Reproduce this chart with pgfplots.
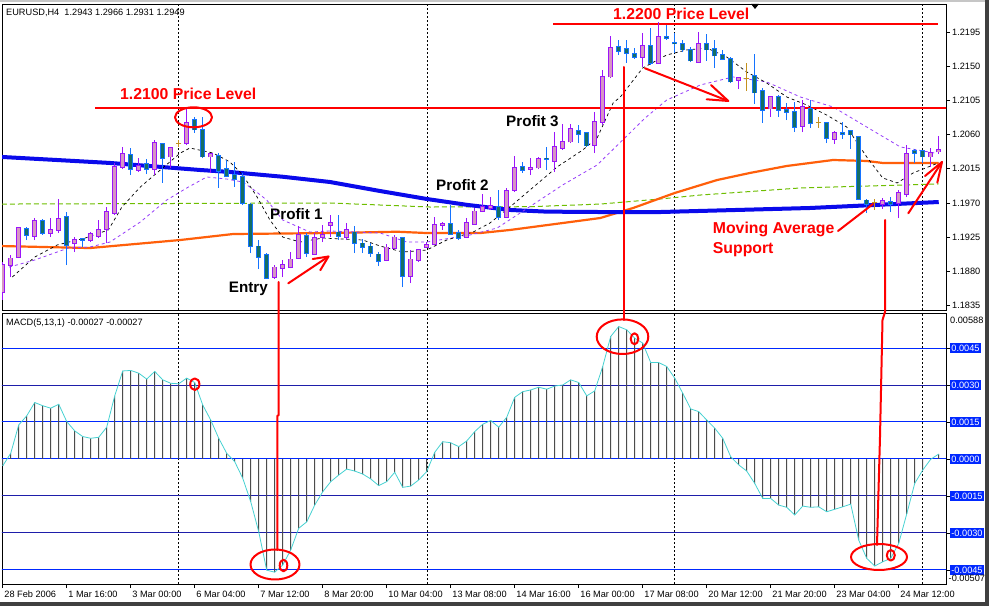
\documentclass[border=0pt]{standalone}
\usepackage{pgfplots}
\pgfplotsset{compat=1.18}
\usepackage{pgfplotstable}
\usepackage{fontspec}
\setmainfont{Liberation Sans}
\definecolor{bullfill}{RGB}{215,150,195}
\definecolor{bullline}{RGB}{155,20,250}
\definecolor{bearfill}{RGB}{20,110,100}
\definecolor{bearline}{RGB}{20,115,255}
\definecolor{dojic}{RGB}{195,145,30}
\definecolor{maBlue}{RGB}{10,10,235}
\definecolor{maOrange}{RGB}{255,95,10}
\definecolor{maGreen}{RGB}{110,190,0}
\definecolor{maPurple}{RGB}{150,60,250}
\definecolor{macdCyan}{RGB}{70,210,210}
\definecolor{lvlBlue}{RGB}{0,40,255}
\definecolor{lvlDark}{RGB}{30,30,170}
\definecolor{lblBlue}{RGB}{0,40,255}
\definecolor{annRed}{RGB}{255,0,0}
\newcommand{\tickfont}{\fontsize{9.2}{11}\selectfont}
\newcommand{\redfont}{\fontsize{15.8}{18}\selectfont\bfseries}
\newcommand{\blkfont}{\fontsize{15.2}{18}\selectfont\bfseries}

\pgfplotstableread{
i o h l c
0 1.18525 1.18920 1.18420 1.18881
1 1.18881 1.19013 1.18723 1.18973
2 1.18986 1.19382 1.18973 1.19369
4 1.19264 1.19501 1.19211 1.19462
6 1.19303 1.19501 1.19250 1.19343
7 1.19343 1.19752 1.19303 1.19488
9 1.19171 1.19250 1.19052 1.19211
11 1.19211 1.19316 1.19184 1.19290
12 1.19264 1.19475 1.19237 1.19343
13 1.19356 1.19646 1.19171 1.19580
14 1.19567 1.20227 1.19541 1.20174
15 1.20174 1.20438 1.20147 1.20345
17 1.20134 1.20292 1.20108 1.20187
19 1.20147 1.20530 1.20068 1.20490
21 1.20306 1.20438 1.20161 1.20424
23 1.20490 1.20952 1.20464 1.20754
26 1.20306 1.20358 1.20095 1.20345
34 1.18723 1.18881 1.18697 1.18854
35 1.18841 1.18947 1.18723 1.18881
36 1.18854 1.19052 1.18841 1.18960
37 1.18973 1.19396 1.18960 1.19277
39 1.19026 1.19303 1.19013 1.19237
40 1.19250 1.19409 1.19184 1.19277
41 1.19409 1.19541 1.19250 1.19435
43 1.19250 1.19435 1.19211 1.19343
48 1.18947 1.19158 1.18934 1.19118
49 1.19105 1.19277 1.19092 1.19250
51 1.18736 1.19079 1.18644 1.18960
52 1.18947 1.19092 1.18920 1.19079
53 1.19118 1.19184 1.19105 1.19145
54 1.19158 1.19514 1.19145 1.19409
55 1.19409 1.19448 1.19343 1.19422
58 1.19250 1.19501 1.19237 1.19435
59 1.19422 1.19633 1.19409 1.19593
60 1.19593 1.19818 1.19580 1.19646
61 1.19633 1.19778 1.19607 1.19659
63 1.19514 1.19897 1.19501 1.19857
64 1.19870 1.20319 1.19844 1.20161
66 1.20147 1.20292 1.20068 1.20161
67 1.20161 1.20306 1.20147 1.20279
69 1.20253 1.20635 1.20108 1.20438
70 1.20424 1.20741 1.20398 1.20504
71 1.20504 1.20741 1.20490 1.20675
74 1.20464 1.20899 1.20358 1.20767
75 1.20767 1.21453 1.20728 1.21361
76 1.21361 1.21901 1.21347 1.21743
80 1.21624 1.21941 1.21493 1.21769
82 1.21545 1.22086 1.21532 1.21888
87 1.21558 1.21954 1.21545 1.21796
92 1.21321 1.21361 1.21202 1.21347
96 1.20939 1.21110 1.20833 1.21097
100 1.20714 1.21057 1.20635 1.20965
104 1.20543 1.20648 1.20477 1.20622
110 1.19685 1.19765 1.19620 1.19725
112 1.19699 1.19870 1.19501 1.19831
113 1.19818 1.20464 1.19778 1.20345
116 1.20306 1.20424 1.20174 1.20358
117 1.20372 1.20583 1.20345 1.20398
}\bull

\pgfplotstableread{
i o h l c
3 1.19356 1.19382 1.19211 1.19277
5 1.19462 1.19488 1.19277 1.19303
8 1.19514 1.19580 1.18881 1.19145
10 1.19224 1.19237 1.19118 1.19211
16 1.20332 1.20424 1.20068 1.20147
18 1.20213 1.20279 1.20081 1.20147
20 1.20477 1.20490 1.19963 1.20292
24 1.20793 1.20833 1.20622 1.20662
25 1.20662 1.20833 1.20292 1.20306
27 1.20319 1.20358 1.19897 1.20121
28 1.20147 1.20266 1.20042 1.20055
29 1.20068 1.20240 1.19910 1.20015
30 1.20042 1.20095 1.19672 1.19699
31 1.19685 1.19699 1.19039 1.19131
32 1.19131 1.19211 1.18828 1.18986
33 1.19013 1.19039 1.18697 1.18710
38 1.19264 1.19303 1.18986 1.19039
42 1.19316 1.19541 1.19211 1.19264
44 1.19316 1.19396 1.19039 1.19171
45 1.19171 1.19224 1.19039 1.19118
46 1.19131 1.19171 1.18986 1.19039
47 1.19026 1.19052 1.18868 1.18934
50 1.19237 1.19250 1.18591 1.18736
56 1.19422 1.19672 1.19277 1.19290
57 1.19303 1.19343 1.19211 1.19237
62 1.19646 1.19870 1.19475 1.19514
65 1.20174 1.20240 1.20095 1.20134
68 1.20286 1.20438 1.20134 1.20273
72 1.20648 1.20728 1.20490 1.20609
73 1.20622 1.20635 1.20438 1.20451
77 1.21756 1.21849 1.21651 1.21703
78 1.21730 1.21849 1.21545 1.21677
79 1.21664 1.21743 1.21598 1.21624
81 1.21769 1.22007 1.21519 1.21545
83 1.21888 1.22046 1.21849 1.21875
84 1.21809 1.21941 1.21677 1.21796
85 1.21796 1.21849 1.21690 1.21717
86 1.21717 1.21756 1.21558 1.21572
88 1.21796 1.21928 1.21572 1.21717
89 1.21730 1.21849 1.21479 1.21638
90 1.21651 1.21717 1.21585 1.21598
91 1.21598 1.21624 1.21281 1.21295
94 1.21374 1.21664 1.21005 1.21150
95 1.21176 1.21216 1.20754 1.20925
97 1.21097 1.21123 1.20833 1.20925
98 1.20925 1.21018 1.20793 1.20899
99 1.20899 1.21031 1.20635 1.20701
101 1.20939 1.21057 1.20688 1.20754
103 1.20754 1.20767 1.20490 1.20556
105 1.20622 1.20767 1.20543 1.20609
106 1.20648 1.20662 1.20411 1.20596
107 1.20569 1.20583 1.19738 1.19752
108 1.19738 1.19752 1.19567 1.19685
111 1.19712 1.19778 1.19580 1.19685
114 1.20385 1.20411 1.20227 1.20358
115 1.20385 1.20398 1.20227 1.20306
}\bear

\pgfplotstableread{
i o h l c
22 1.20490 1.20530 1.20438 1.20490
93 1.21347 1.21545 1.21176 1.21347
102 1.20754 1.20833 1.20688 1.20754
109 1.19712 1.19752 1.19607 1.19712
}\doji

\pgfplotstableread{
i m
0 -0.00028
1 0.00023
2 0.00138
3 0.00175
4 0.00229
5 0.00216
6 0.00206
7 0.00222
8 0.00152
9 0.00114
10 0.00091
11 0.00084
12 0.00088
13 0.00129
14 0.00256
15 0.00357
16 0.00359
17 0.00348
18 0.00324
19 0.00355
20 0.00321
21 0.00307
22 0.00305
23 0.00328
24 0.00310
25 0.00219
26 0.00158
27 0.00084
28 0.00023
29 -0.00011
30 -0.00078
31 -0.00173
32 -0.00295
33 -0.00451
34 -0.00459
35 -0.00430
36 -0.00369
37 -0.00281
38 -0.00255
39 -0.00187
40 -0.00133
41 -0.00092
42 -0.00065
43 -0.00041
44 -0.00049
45 -0.00061
46 -0.00081
47 -0.00108
48 -0.00092
49 -0.00054
50 -0.00115
51 -0.00110
52 -0.00085
53 -0.00051
54 0.00027
55 0.00070
56 0.00066
57 0.00050
58 0.00073
59 0.00111
60 0.00141
61 0.00156
62 0.00129
63 0.00169
64 0.00250
65 0.00273
66 0.00280
67 0.00291
68 0.00283
69 0.00296
70 0.00300
71 0.00321
72 0.00310
73 0.00256
74 0.00276
75 0.00375
76 0.00497
77 0.00537
78 0.00524
79 0.00490
80 0.00470
81 0.00391
82 0.00391
83 0.00375
84 0.00328
85 0.00267
86 0.00203
87 0.00192
88 0.00158
89 0.00125
90 0.00084
91 0.00009
92 -0.00024
93 -0.00049
94 -0.00099
95 -0.00160
96 -0.00160
97 -0.00187
98 -0.00196
99 -0.00227
100 -0.00191
101 -0.00196
102 -0.00194
103 -0.00214
104 -0.00204
105 -0.00194
106 -0.00183
107 -0.00329
108 -0.00403
109 -0.00434
110 -0.00417
111 -0.00403
112 -0.00342
113 -0.00223
114 -0.00099
115 -0.00045
116 -0.00001
117 0.00020
}\macd

\begin{document}
\begin{tikzpicture}
\path[use as bounding box] (0pt,0pt) rectangle (989pt,606pt);
\fill[white] (0pt,0pt) rectangle (989pt,606pt);

% ---------------- price panel ----------------
\begin{scope}[shift={(2pt,296pt)}]
\begin{axis}[
  at={(0pt,0pt)}, anchor=south west, scale only axis,
  width=944pt, height=306pt,
  xmin=-0.09, xmax=117.91, ymin=1.18288, ymax=1.22323,
  axis line style={black, line width=0.9pt},
  xtick=\empty,
  extra x ticks={22.0,53.04,83.9,114.9}, extra x tick labels={},
  extra x tick style={grid=major, tick style={draw=none}},
  major grid style={black, line width=0.7pt, dash pattern=on 2pt off 2pt},
  ytick={1.1835,1.1880,1.1925,1.1970,1.2015,1.2060,1.2105,1.2150,1.2195},
  yticklabels={1.1835,1.1880,1.1925,1.1970,1.2015,1.2060,1.2105,1.2150,1.2195},
  ytick pos=right, tick align=outside, major tick length=4pt,
  tick style={black, line width=0.8pt},
  yticklabel style={anchor=west, inner sep=0pt, font=\tickfont, xshift=2pt},
  scaled y ticks=false,
]
% moving averages
\addplot[maGreen, line width=1pt, dash pattern=on 5pt off 3pt, forget plot] coordinates {
(-0.1,1.19685) (40.9,1.19699) (53.4,1.19646) (65.9,1.19650) (74.7,1.19685)
(82.2,1.19752) (87.2,1.19804) (99.7,1.19897) (117,1.19950)};
\addplot[maOrange, line width=2.2pt, forget plot] coordinates {
(-0.1,1.19131) (10.9,1.19105) (22.2,1.19211) (28.8,1.19290) (40.9,1.19303)
(49.3,1.19320) (53,1.19303) (59.7,1.19303) (63.4,1.19343) (70,1.19435)
(74.7,1.19501) (78.8,1.19633) (84.0,1.19831) (89.3,1.20002) (93.4,1.20095)
(98,1.20187) (103.8,1.20266) (108,1.20253) (110,1.20227) (117,1.20227)};
\addplot[maBlue, line width=4pt, forget plot] coordinates {
(-0.1,1.20306) (13.4,1.20227) (24.7,1.20134) (28.4,1.20108) (35,1.20045) (40.9,1.19976)
(47,1.19860) (53,1.19752) (58,1.19675) (63.4,1.19607) (68,1.19585) (74.7,1.19580) (82.2,1.19580) (100.9,1.19633) (117,1.19712)};
\addplot[maPurple, line width=0.8pt, dash pattern=on 3pt off 3pt, forget plot] coordinates {
(0.8,1.18854) (4.0,1.18947) (8.2,1.19105) (10.9,1.19118) (13.4,1.19184)
(17.2,1.19448) (20.5,1.19738) (23.0,1.19897) (25.5,1.20042) (28.0,1.20015)
(30.0,1.19976) (31.5,1.19864) (33.0,1.19738) (35.0,1.19475) (38.4,1.19316)
(40.9,1.19330) (47.2,1.19303) (50.5,1.19184) (53.0,1.19184) (58.4,1.19277)
(61.8,1.19369) (64.3,1.19541) (70.0,1.19937) (74.3,1.20200) (77.5,1.20530)
(80.3,1.20820) (83.0,1.21057) (87.2,1.21255) (91.3,1.21361) (95.5,1.21295)
(99.7,1.21097) (103.8,1.20965) (108.0,1.20701) (112.2,1.20438) (116.5,1.20358)};
\addplot[black, line width=0.7pt, dash pattern=on 3pt off 3pt, forget plot] coordinates {
(1.2,1.18723) (4.0,1.18986) (6.8,1.19145) (10.3,1.19237) (13.2,1.19343)
(14.9,1.19646) (17.2,1.19910) (19.7,1.20134) (22.2,1.20358) (23.4,1.20424)
(26.3,1.20358) (28.4,1.20240) (30.0,1.20068) (31.8,1.19778) (33.4,1.19475)
(35.0,1.19250) (37.2,1.19184) (40.0,1.19237) (45.0,1.19211) (47.2,1.19131)
(50.0,1.19052) (53.0,1.19079) (55.5,1.19211) (58.8,1.19316) (60.9,1.19435)
(63.4,1.19646) (65.9,1.19870) (69.3,1.20174) (72.5,1.20398) (74.3,1.20556)
(76.3,1.21018) (77.2,1.21097) (80.0,1.21479) (83.0,1.21651) (85.5,1.21717)
(88.0,1.21743) (90.5,1.21624) (93.0,1.21427) (95.5,1.21281) (98.0,1.21097)
(100.5,1.20991) (103.0,1.20859) (105.5,1.20701) (108.0,1.20306) (110.0,1.20029)
(111.8,1.19963) (113.8,1.20095) (116.3,1.20200) (117,1.20230)};
% price level lines
\addplot[annRed, line width=2.4pt, forget plot] coordinates {(11.54,1.20952) (118,1.20952)};
\addplot[annRed, line width=2.4pt, forget plot] coordinates {(68.8,1.22063) (116.9,1.22063)};
% candles: wicks
\addplot[draw=none, forget plot, error bars/.cd, y dir=plus, y explicit, error mark=none,
  error bar style={draw=bullline, line width=1pt}]
  table[x=i, y=l, y error plus expr={\thisrow{h}-\thisrow{l}}] {\bull};
\addplot[draw=none, forget plot, error bars/.cd, y dir=plus, y explicit, error mark=none,
  error bar style={draw=bearline, line width=1pt}]
  table[x=i, y=l, y error plus expr={\thisrow{h}-\thisrow{l}}] {\bear};
\addplot[draw=none, forget plot, error bars/.cd, y dir=plus, y explicit, error mark=none,
  error bar style={draw=dojic, line width=1pt}]
  table[x=i, y=l, y error plus expr={\thisrow{h}-\thisrow{l}}] {\doji};
% candles: bodies
\addplot[draw=none, forget plot, error bars/.cd, y dir=plus, y explicit, error mark=none,
  error bar style={draw=bullline, line width=5pt}]
  table[x=i, y expr={\thisrow{o}-0.00007}, y error plus expr={\thisrow{c}-\thisrow{o}+0.00014}] {\bull};
\addplot[draw=none, forget plot, error bars/.cd, y dir=plus, y explicit, error mark=none,
  error bar style={draw=bullfill, line width=3pt}]
  table[x=i, y=o, y error plus expr={\thisrow{c}-\thisrow{o}}] {\bull};
\addplot[draw=none, forget plot, error bars/.cd, y dir=plus, y explicit, error mark=none,
  error bar style={draw=bearline, line width=5pt}]
  table[x=i, y expr={\thisrow{c}-0.00007}, y error plus expr={\thisrow{o}-\thisrow{c}+0.00014}] {\bear};
\addplot[draw=none, forget plot, error bars/.cd, y dir=plus, y explicit, error mark=none,
  error bar style={draw=bearfill, line width=3pt}]
  table[x=i, y=c, y error plus expr={\thisrow{o}-\thisrow{c}}] {\bear};
\addplot[only marks, mark=-, mark size=2.6pt, mark options={draw=dojic, line width=1pt}, forget plot]
  table[x=i, y=o] {\doji};
\end{axis}
\end{scope}

% ---------------- MACD panel ----------------
\begin{scope}[shift={(2pt,22pt)}]
\begin{axis}[
  at={(0pt,0pt)}, anchor=south west, scale only axis,
  width=944pt, height=271pt,
  xmin=-0.09, xmax=117.91, ymin=-0.00507, ymax=0.00592,
  axis line style={black, line width=0.9pt},
  xtick={0,8,...,112},
  xticklabels={28 Feb 2006,1 Mar 16:00,3 Mar 00:00,6 Mar 04:00,7 Mar 12:00,8 Mar 20:00,10 Mar 04:00,13 Mar 08:00,14 Mar 16:00,16 Mar 00:00,17 Mar 08:00,20 Mar 12:00,21 Mar 20:00,23 Mar 04:00,24 Mar 12:00},
  xtick pos=left, ytick pos=right, tick align=outside, major tick length=4pt,
  tick style={black, line width=0.8pt},
  xticklabel style={anchor=north west, inner sep=0pt, font=\tickfont, xshift=1.5pt, yshift=-3pt},
  extra x ticks={22.0,53.04,83.9,114.9}, extra x tick labels={},
  extra x tick style={grid=major, tick style={draw=none}},
  major grid style={black, line width=0.7pt, dash pattern=on 2pt off 2pt},
  ytick={-0.0045,-0.003,-0.0015,0,0.0015,0.003,0.0045},
  yticklabels={-0.0045,-0.0030,-0.0015,0.0000,0.0015,0.0030,0.0045},
  yticklabel style={anchor=west, fill=lblBlue, text=white, inner xsep=1.2pt, inner ysep=1.4pt, font=\tickfont, xshift=0pt},
  scaled y ticks=false,
]
\addplot[lvlBlue, line width=1pt, forget plot] coordinates {(-1,0.0045) (119,0.0045)};
\addplot[lvlDark, line width=1pt, forget plot] coordinates {(-1,0.003) (119,0.003)};
\addplot[lvlBlue, line width=1pt, forget plot] coordinates {(-1,0.0015) (119,0.0015)};
\addplot[lvlBlue, line width=1pt, forget plot] coordinates {(-1,0) (119,0)};
\addplot[lvlDark, line width=1pt, forget plot] coordinates {(-1,-0.0015) (119,-0.0015)};
\addplot[lvlDark, line width=1pt, forget plot] coordinates {(-1,-0.003) (119,-0.003)};
\addplot[lvlBlue, line width=1pt, forget plot] coordinates {(-1,-0.0045) (119,-0.0045)};
\addplot[ybar, bar width=1pt, bar shift=0pt, fill=black!70, draw=none, forget plot] table[x=i, y=m] {\macd};
\addplot[macdCyan, line width=0.8pt, forget plot] table[x=i, y=m] {\macd};
\end{axis}
\end{scope}

% ---------------- annotations (pixel coordinates, y down) ----------------
\begin{scope}[x=1pt, yshift=606pt, y=-1pt]
\fill[gray!45] (0,0) rectangle (989,2.5);
\fill[black!75] (985,0) rectangle (989,606);
\fill[black!75] (0,602) rectangle (989,606);
\fill[black] (751,4) -- (759,4) -- (755,9) -- cycle;
\node[anchor=base west, inner sep=0pt, font=\tickfont] at (6,16) {EURUSD,H4\ \ 1.2943 1.2966 1.2931 1.2949};
\node[anchor=base west, inner sep=0pt, font=\tickfont] at (6,326) {MACD(5,13,1) -0.00027 -0.00027};
\node[anchor=west, inner sep=0pt, font=\tickfont] at (950,320) {0.00588};
\node[anchor=west, inner sep=0pt, font=\tickfont] at (948.5,578.5) {-0.00507};
% texts
\node[anchor=base west, inner sep=0pt, text=annRed, font=\redfont] at (120,100) {1.2100 Price Level};
\node[anchor=base west, inner sep=0pt, text=annRed, font=\redfont] at (613,20) {1.2200 Price Level};
\node[anchor=base west, inner sep=0pt, font=\blkfont] at (270,220) {Profit 1};
\node[anchor=base west, inner sep=0pt, font=\blkfont] at (228.7,293) {Entry};
\node[anchor=base west, inner sep=0pt, font=\blkfont] at (436,191) {Profit 2};
\node[anchor=base west, inner sep=0pt, font=\blkfont] at (506,127) {Profit 3};
\node[anchor=base west, inner sep=0pt, text=annRed, font=\redfont] at (712.7,234) {Moving Average};
\node[anchor=base west, inner sep=0pt, text=annRed, font=\redfont] at (712.7,254) {Support};
% strokes
\begin{scope}[annRed, line width=2pt, line cap=round, line join=round]
\draw (193.5,117.3) ellipse [x radius=18.5, y radius=10];
\draw (278.7,282) -- (278.7,415) -- (277.3,416) -- (277.3,550);
\draw (275,564.5) ellipse [x radius=24.5, y radius=15];
\draw (283.5,565.5) ellipse [x radius=3.8, y radius=5.8];
\draw (194.8,384.2) ellipse [x radius=4.6, y radius=5.8];
\draw (288.3,283.3) -- (328.5,256.5);
\draw (320.3,270.2) -- (328.5,256.5) -- (312.7,259);
\draw (623.5,67) -- (623.5,320);
\draw (622.5,336.7) ellipse [x radius=25.8, y radius=17.3];
\draw (634.5,338.8) ellipse [x radius=3.8, y radius=5.5];
\draw (645,68.3) -- (728.3,101);
\draw (711,85) -- (728.3,101) -- (706.7,99.3);
\draw (885,220) -- (885,312) -- (882.5,320) -- (880,437) -- (877,545);
\draw (879,557) ellipse [x radius=28, y radius=13];
\draw (890.8,555.3) ellipse [x radius=4, y radius=5.3];
\draw (838,231) -- (873,204);
\draw (908.3,213.3) -- (942,162);
\draw (925,176) -- (942,162);
\draw (937.3,182.7) -- (942,162);
\end{scope}
\end{scope}
\end{tikzpicture}
\end{document}
